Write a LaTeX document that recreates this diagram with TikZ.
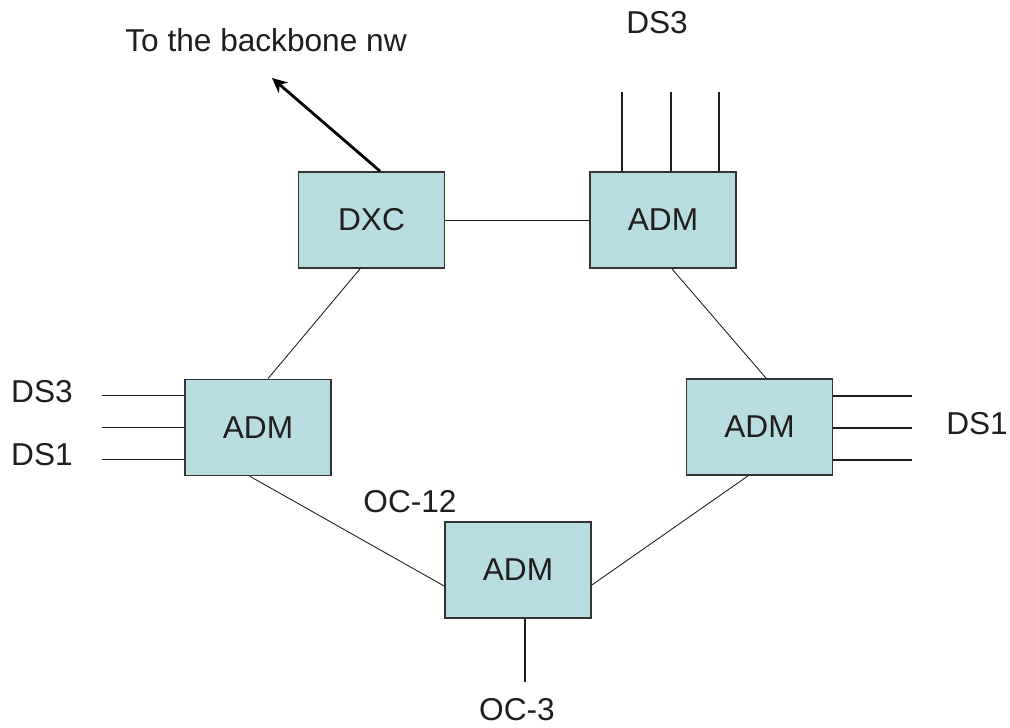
\documentclass[tikz,border=0pt]{standalone}
\usepackage{fontspec}
\setmainfont{Liberation Sans}
\usetikzlibrary{positioning, arrows.meta, calc}
\definecolor{boxfill}{HTML}{B8DDE1}
\definecolor{boxline}{HTML}{333333}
\definecolor{inkdark}{HTML}{1E1E1E}

\begin{document}
\begin{tikzpicture}[
  x=0.02cm, y=-0.02cm,
  muxBox/.style={draw=boxline, line width=1pt, fill=boxfill, minimum width=2.92cm, minimum height=1.92cm, align=center, font=\fontsize{18}{21}\selectfont, text=inkdark},
  ringLink/.style={draw=inkdark, line width=0.5pt},
  tribLine/.style={draw=inkdark, line width=0.9pt},
  upLink/.style={-{Stealth[length=0.3cm, width=0.28cm]}, draw=black, line width=1.6pt},
  sigLabel/.style={font=\fontsize{18}{21}\selectfont, text=inkdark, inner sep=1pt}
]
\useasboundingbox (0,0) rectangle (1010,727);

% Ring nodes
\node[muxBox] (dxc) at (371.5,220) {DXC};
\node[muxBox] (admTop) at (663,220) {ADM};
\node[muxBox] (admLeft) at (258,427.5) {ADM};
\node[muxBox] (admRight) at (759.5,427) {ADM};
\node[muxBox] (admBot) at (518,570) {ADM};

% Labels
\node[sigLabel] (lblBackbone) at (266,40) {To the backbone nw};
\node[sigLabel] (lblTopDS3) at (657,23) {DS3};
\node[sigLabel] (lblLeftDS3) at (42,392) {DS3};
\node[sigLabel] (lblLeftDS1) at (42,455) {DS1};
\node[sigLabel] (lblRightDS1) at (977,424) {DS1};
\node[sigLabel] (lblOC12) at (410,502) {OC-12};
\node[sigLabel] (lblOC3) at (517,710) {OC-3};

% Free ends of the tributaries
\coordinate (bbEnd) at (272,78);
\coordinate (oc3End) at (525,682);

% Ring connections
\draw[ringLink] (dxc.east) -- (admTop.west);
\draw[ringLink] ($(dxc.south)+(-11.5,0)$) -- ($(admLeft.north)+(10,0)$);
\draw[ringLink] ($(admTop.south)+(9,0)$) -- ($(admRight.north)+(6.5,0)$);
\draw[ringLink] ($(admLeft.south)+(-8,0)$) -- ($(admBot.west)+(0,16)$);
\draw[ringLink] ($(admRight.south)+(-11.5,0)$) -- ($(admBot.east)+(0,15)$);

% Tributaries
\foreach \dx in {-41,8,56}
  \draw[tribLine] ($(admTop.north)+(\dx,0)$) -- ++(0,-79);
\foreach \dy in {-32,0,32}
  \draw[tribLine] ($(admLeft.west)+(0,\dy)$) -- ++(-82,0);
\foreach \dy in {-31,1,33}
  \draw[tribLine] ($(admRight.east)+(0,\dy)$) -- ++(79,0);
\draw[tribLine] ($(admBot.south)+(7,0)$) -- (oc3End);

% Uplink to the backbone
\draw[upLink] ($(dxc.north)+(8.5,0)$) -- (bbEnd);

\end{tikzpicture}
\end{document}
